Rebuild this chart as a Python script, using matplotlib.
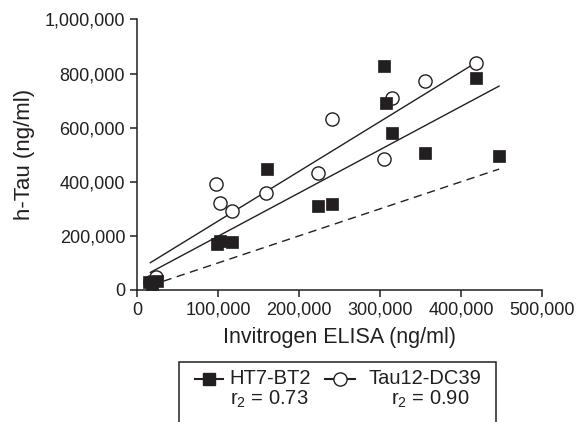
import matplotlib
matplotlib.use("Agg")
import matplotlib.pyplot as plt
import numpy as np
from matplotlib.lines import Line2D
from matplotlib.patches import Rectangle
from matplotlib.ticker import FuncFormatter

plt.rcParams['font.family'] = ['Liberation Sans', 'DejaVu Sans']
plt.rcParams['mathtext.fontset'] = 'custom'
plt.rcParams['mathtext.rm'] = 'Liberation Sans'
plt.rcParams['mathtext.it'] = 'Liberation Sans:italic'

ink = '#231f20'

# HT7-BT2 (filled squares)
ht7_x = [15000, 19000, 25000, 99000, 103000, 117000, 160000, 223000, 241000,
         305000, 307000, 315000, 356000, 418000, 447000]
ht7_y = [28000, 24000, 34000, 170000, 180000, 177000, 447000, 312000, 319000,
         827000, 690000, 579000, 505000, 784000, 496000]

# Tau12-DC39 (open circles)
tau_x = [16000, 24000, 98000, 103000, 117000, 159000, 223000, 241000,
         304500, 315000, 356000, 418000]
tau_y = [30000, 47000, 391000, 320000, 293000, 358000, 431000, 631000,
         484000, 709000, 772000, 838000]

# fitted lines: slope, intercept
ht7_fit = [1.60, 38600]
tau_fit = [1.84, 70600]
fit_start = 16500

legend_names = ['HT7-BT2', 'Tau12-DC39']
legend_r2 = ['0.73', '0.90']

fig = plt.figure(figsize=(5.79, 4.22), dpi=100)
ax = fig.add_axes([0.2366, 0.3128, 0.6995, 0.6410])

# identity line
xd = np.array([fit_start, max(ht7_x)])
ax.plot(xd, xd, color=ink, lw=1.0, ls=(0, (6, 4)), zorder=2)

xt = np.array([fit_start, max(tau_x)])
ax.plot(xt, tau_fit[0] * xt + tau_fit[1], color=ink, lw=1.0, zorder=2)
xh = np.array([fit_start, max(ht7_x)])
ax.plot(xh, ht7_fit[0] * xh + ht7_fit[1], color=ink, lw=1.0, zorder=2)

ax.plot(tau_x, tau_y, 'o', ms=9.5, mfc='white', mec=ink, mew=1.0,
        zorder=3, clip_on=False)
ax.plot(ht7_x, ht7_y, 's', ms=8.2, mfc=ink, mec=ink, mew=0.5,
        zorder=4, clip_on=False)

ax.set_xlim(0, 500000)
ax.set_ylim(0, 1000000)
ax.set_xticks(np.arange(0, 500001, 100000))
ax.set_yticks(np.arange(0, 1000001, 200000))
fmt = FuncFormatter(lambda v, p: f'{int(v):,}')
ax.xaxis.set_major_formatter(fmt)
ax.yaxis.set_major_formatter(fmt)

for s in ['top', 'right']:
    ax.spines[s].set_visible(False)
for s in ['left', 'bottom']:
    ax.spines[s].set_linewidth(1.1)
    ax.spines[s].set_color(ink)
ax.tick_params(direction='out', length=5, width=1.1, colors=ink,
               labelsize=13, pad=3.5)

ax.set_xlabel('Invitrogen ELISA (ng/ml)', fontsize=15.5, color=ink, labelpad=6)
ax.set_ylabel('h-Tau (ng/ml)', fontsize=16, color=ink, labelpad=7)

# legend box, open at the bottom (cropped figure)
box = Rectangle((0.309, -0.2), 0.548, 0.342, transform=fig.transFigure,
                fill=False, ec=ink, lw=1.1, clip_on=False)
fig.add_artist(box)

row1 = 0.102
row2 = 0.053
fig.add_artist(Line2D([0.337, 0.385], [row1, row1], color=ink, lw=1.5,
                      transform=fig.transFigure))
fig.add_artist(Line2D([0.361], [row1], color=ink, marker='s', ms=8.2,
                      mfc=ink, mec=ink, ls='none', transform=fig.transFigure))
fig.add_artist(Line2D([0.561, 0.613], [row1, row1], color=ink, lw=1.5,
                      transform=fig.transFigure))
fig.add_artist(Line2D([0.587], [row1], color=ink, marker='o', ms=9.5,
                      mfc='white', mec=ink, mew=1.0, ls='none',
                      transform=fig.transFigure))

fig.text(0.3955, row1, legend_names[0], fontsize=14.5, color=ink,
         ha='left', va='center')
fig.text(0.636, row1, legend_names[1], fontsize=14.5, color=ink,
         ha='left', va='center')
fig.text(0.4646, row2, r'r$_2$ = ' + legend_r2[0], fontsize=14.5, color=ink,
         ha='center', va='center')
fig.text(0.7427, row2, r'r$_2$ = ' + legend_r2[1], fontsize=14.5, color=ink,
         ha='center', va='center')

fig.savefig('out.png', dpi=100)
